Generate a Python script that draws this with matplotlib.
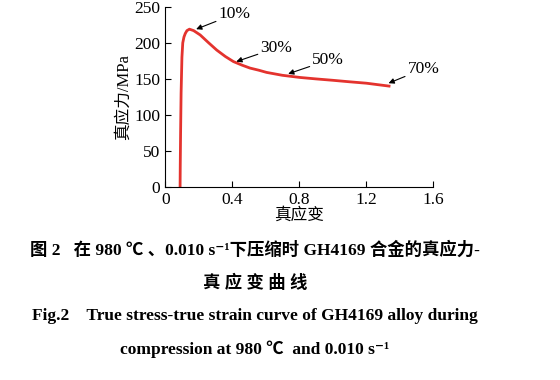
import numpy as np
import matplotlib
matplotlib.use("Agg")
import matplotlib.pyplot as plt

plt.rcParams['font.family'] = ['Liberation Serif', 'Noto Sans CJK SC', 'DejaVu Sans']

# true strain / true stress
strain = [0.089, 0.090, 0.092, 0.095, 0.100, 0.105, 0.112, 0.120, 0.130, 0.145,
          0.170, 0.209, 0.26, 0.308, 0.36, 0.408, 0.46, 0.507, 0.56, 0.606,
          0.70, 0.805, 0.90, 1.004, 1.10, 1.203, 1.27, 1.338]
stress = [0, 30, 75, 130, 180, 200, 208, 213, 217, 219,
          217, 211, 200, 190, 181, 174, 169, 165, 162, 159,
          155, 152, 150, 148, 146, 144, 142, 140]

# annotations: label, arrow tip (x, y), text position (x, y)
labels = ["10%", "30%", "50%", "70%"]
tips = [(0.185, 219), (0.425, 174), (0.735, 157), (1.335, 144)]
text_pos = [(0.32, 240), (0.57, 193), (0.88, 176), (1.45, 164)]

fig = plt.figure(figsize=(5.6, 3.8), dpi=100)
ax = fig.add_axes([0.295, 0.508, 0.478, 0.474])

ax.plot(strain, stress, color='#e4332e', lw=2.0)

for lab, tip, tp in zip(labels, tips, text_pos):
    ax.annotate(lab, xy=tip, xytext=tp, fontsize=12.5,
                ha='left', va='center',
                arrowprops=dict(arrowstyle='-|>', color='black', lw=0.8,
                                mutation_scale=8, shrinkA=0, shrinkB=0))

ax.set_xlim(0, 1.6)
ax.set_ylim(0, 250)
ax.set_xticks([0, 0.4, 0.8, 1.2, 1.6])
ax.set_xticklabels(['0', '0.4', '0.8', '1.2', '1.6'])
ax.set_yticks([0, 50, 100, 150, 200, 250])
ax.spines['top'].set_visible(False)
ax.spines['right'].set_visible(False)
ax.tick_params(direction='in', length=4, labelsize=12.5, width=0.8)
ax.set_xlabel('真应变', fontsize=12, labelpad=0)
ax.set_ylabel('真应力/MPa', fontsize=12, labelpad=2)

cap = dict(ha='center', va='center', fontweight='bold', fontsize=12.5)
fig.text(0.455, 1 - 250 / 380, '图 2   在 980 ℃ 、0.010 s⁻¹下压缩时 GH4169 合金的真应力-', **cap)
fig.text(0.455, 1 - 283 / 380, '真 应 变 曲 线', **cap)
fig.text(0.455, 1 - 316 / 380, 'Fig.2    True stress-true strain curve of GH4169 alloy during', **cap)
fig.text(0.455, 1 - 349 / 380, 'compression at 980 ℃  and 0.010 s⁻¹', **cap)

fig.savefig('out.png', dpi=100)
